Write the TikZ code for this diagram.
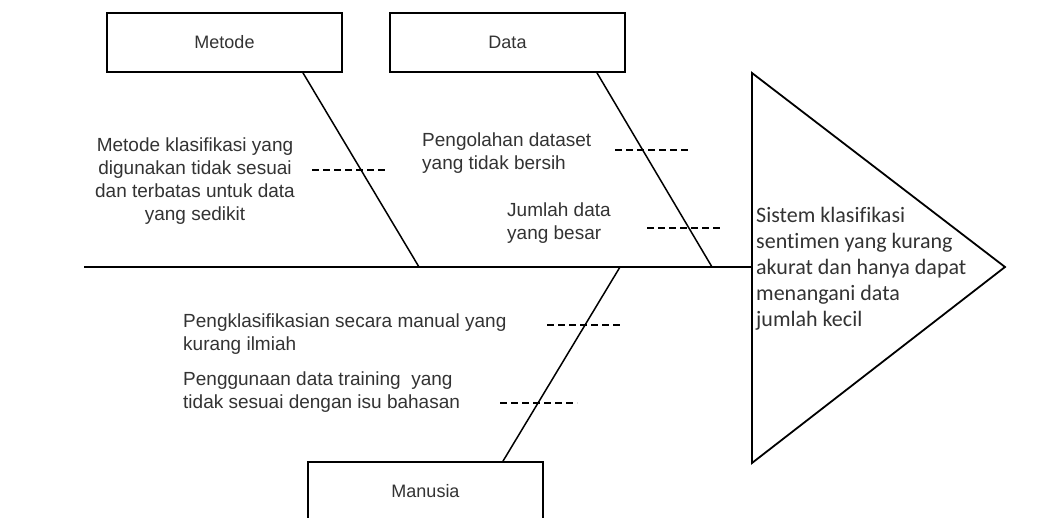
\documentclass[tikz,border=0pt]{standalone}
\usepackage{fontspec}
\setmainfont{Liberation Sans}
\newfontfamily\calib[Ligatures=NoCommon]{Carlito}
\definecolor{txt}{HTML}{333333}
\newcommand{\mylinesC}[1]{\begin{tabular}[t]{@{}c@{}}#1\end{tabular}}
\newcommand{\mylinesL}[1]{\begin{tabular}[t]{@{}l@{}}#1\end{tabular}}
\begin{document}
\begin{tikzpicture}[x=1pt,y=-1pt]
\tikzset{
  catbox/.style={draw=black, line width=1.8pt, fill=white, minimum width=235pt,
    minimum height=59pt, inner sep=0pt, text=txt, font=\fontsize{18}{22}\selectfont},
  bone/.style={line width=1.5pt, draw=black},
  spine/.style={line width=1.8pt, draw=black},
  causeline/.style={line width=1.4pt, draw=black, dash pattern=on 7pt off 4pt},
  lbl/.style={inner sep=0pt, text=txt, font=\fontsize{19}{23}\selectfont},
  effecttext/.style={inner sep=0pt, text=txt, font=\calib\fontsize{22}{26}\selectfont},
}
\useasboundingbox (0,0) rectangle (1061,518);
\clip (0,0) rectangle (1061,518);
\fill[white] (0,0) rectangle (1061,518);

% category boxes
\node[catbox] (metode) at (224.5,42.5) {\raisebox{-2pt}{Metode}};
\node[catbox] (data) at (507.5,42.5) {\raisebox{-2pt}{Data}};
\node[catbox] (manusia) at (425.5,491.5) {Manusia};

% head (triangle)
\coordinate (tail) at (84,267);
\coordinate (head) at (752,267);
\draw[spine, line join=miter] (752,73) -- (1005,267) -- (752,463) -- cycle;

% spine junctions
\coordinate (jm) at (419,267);
\coordinate (jd) at (712,267);
\coordinate (jh) at (620,267);

\draw[spine] (tail) -- (head);
\draw[bone] ([xshift=78.5pt]metode.south) -- (jm);
\draw[bone] ([xshift=89.5pt]data.south) -- (jd);
\draw[bone] (jh) -- ([xshift=77.5pt]manusia.north);

% cause dashed lines
\draw[causeline] (312,170) -- (388,170);
\draw[causeline] (615,150) -- (690,150);
\draw[causeline] (647,228) -- (722,228);
\draw[causeline] (547,325) -- (623,325);
\draw[causeline] (500,403) -- (577,403);

% cause texts
\node[lbl, anchor=base] (c1) at (195,152) {\mylinesC{Metode klasifikasi yang\\ digunakan tidak sesuai\\ dan terbatas untuk data\\ yang sedikit}};
\node[lbl, anchor=base west] (c2) at (422,147) {\mylinesL{Pengolahan dataset\\ yang tidak bersih}};
\node[lbl, anchor=base west] (c3) at (507,217) {\mylinesL{Jumlah data\\ yang besar}};
\node[lbl, anchor=base west] (c4) at (183,328) {\mylinesL{Pengklasifikasian secara manual yang\\ kurang ilmiah}};
\node[lbl, anchor=base west] (c5) at (183,386) {\mylinesL{Penggunaan data training\ \ yang\\ tidak sesuai dengan isu bahasan}};

% effect text
\node[effecttext, anchor=base west] (effect) at (756,223) {\mylinesL{Sistem klasifikasi\\ sentimen yang kurang\\ akurat dan hanya dapat\\ menangani data\\ jumlah kecil}};
\end{tikzpicture}
\end{document}
